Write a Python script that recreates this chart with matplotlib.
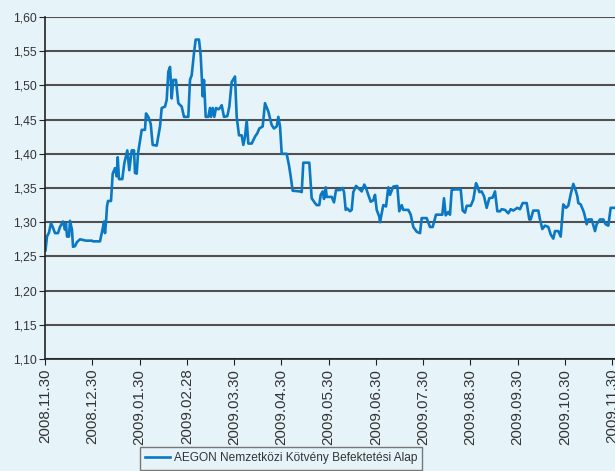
import matplotlib
matplotlib.use('Agg')
import matplotlib.pyplot as plt
from matplotlib.ticker import FuncFormatter
import numpy as np

# months elapsed since 2008.11.30 and fund price
months = [0.011, 0.042, 0.085, 0.127, 0.169, 0.212, 0.275, 0.317, 0.381, 0.423,
          0.444, 0.466, 0.508, 0.529, 0.571, 0.593, 0.635, 0.677, 0.741, 0.868,
          0.995, 1.016, 1.164, 1.228, 1.249, 1.270, 1.291, 1.312, 1.333, 1.397,
          1.433, 1.481, 1.517, 1.539, 1.566, 1.636, 1.678, 1.742, 1.784, 1.835,
          1.884, 1.905, 1.941, 1.968, 2.047, 2.116, 2.138, 2.186, 2.237, 2.279,
          2.364, 2.434, 2.470, 2.540, 2.576, 2.610, 2.646, 2.681, 2.715, 2.772,
          2.821, 2.893, 2.942, 3.033, 3.069, 3.105, 3.153, 3.189, 3.259, 3.295,
          3.338, 3.365, 3.401, 3.456, 3.492, 3.513, 3.549, 3.583, 3.619, 3.668,
          3.704, 3.740, 3.788, 3.858, 3.901, 3.951, 4.021, 4.057, 4.106, 4.163,
          4.197, 4.233, 4.269, 4.303, 4.375, 4.444, 4.493, 4.535, 4.607, 4.656,
          4.726, 4.798, 4.847, 4.904, 4.938, 4.974, 5.010, 5.115, 5.164, 5.200,
          5.242, 5.397, 5.433, 5.467, 5.594, 5.644, 5.714, 5.750, 5.805, 5.835,
          5.877, 5.905, 5.941, 5.962, 6.068, 6.116, 6.159, 6.243, 6.301, 6.328,
          6.364, 6.398, 6.455, 6.491, 6.525, 6.582, 6.631, 6.703, 6.758, 6.794,
          6.842, 6.893, 6.948, 6.984, 7.020, 7.075, 7.090, 7.160, 7.217, 7.266,
          7.302, 7.371, 7.456, 7.498, 7.549, 7.583, 7.689, 7.740, 7.795, 7.867,
          7.937, 7.972, 8.078, 8.148, 8.205, 8.275, 8.360, 8.409, 8.444, 8.480,
          8.536, 8.571, 8.607, 8.677, 8.798, 8.840, 8.889, 8.925, 9.010, 9.065,
          9.122, 9.149, 9.192, 9.242, 9.291, 9.348, 9.403, 9.475, 9.524, 9.573,
          9.630, 9.666, 9.735, 9.805, 9.856, 9.911, 9.996, 10.053, 10.110, 10.195,
          10.250, 10.279, 10.334, 10.440, 10.476, 10.525, 10.582, 10.652, 10.703, 10.758,
          10.794, 10.863, 10.914, 10.969, 11.026, 11.075, 11.126, 11.181, 11.238, 11.266,
          11.287, 11.337, 11.380, 11.407, 11.443, 11.464, 11.499, 11.570, 11.640, 11.676,
          11.746, 11.816, 11.866, 11.922, 11.972, 12.100]
price = [1.259, 1.279, 1.285, 1.299, 1.292, 1.284, 1.284, 1.293, 1.301, 1.289,
         1.298, 1.279, 1.279, 1.302, 1.289, 1.264, 1.265, 1.271, 1.275, 1.273,
         1.273, 1.272, 1.272, 1.293, 1.301, 1.284, 1.300, 1.323, 1.331, 1.331,
         1.371, 1.379, 1.367, 1.395, 1.363, 1.363, 1.386, 1.405, 1.376, 1.405,
         1.405, 1.372, 1.371, 1.400, 1.435, 1.435, 1.459, 1.454, 1.444, 1.413,
         1.412, 1.440, 1.467, 1.469, 1.479, 1.520, 1.527, 1.481, 1.508, 1.508,
         1.474, 1.469, 1.454, 1.454, 1.508, 1.515, 1.547, 1.567, 1.567, 1.544,
         1.484, 1.508, 1.454, 1.454, 1.467, 1.454, 1.467, 1.454, 1.467, 1.465,
         1.467, 1.471, 1.454, 1.455, 1.469, 1.505, 1.513, 1.454, 1.427, 1.427,
         1.413, 1.425, 1.449, 1.415, 1.415, 1.425, 1.430, 1.437, 1.440, 1.474,
         1.462, 1.442, 1.437, 1.440, 1.454, 1.440, 1.400, 1.400, 1.383, 1.367,
         1.346, 1.345, 1.344, 1.387, 1.387, 1.335, 1.328, 1.325, 1.325, 1.340,
         1.345, 1.334, 1.351, 1.337, 1.337, 1.329, 1.347, 1.347, 1.350, 1.344,
         1.318, 1.320, 1.316, 1.318, 1.344, 1.353, 1.350, 1.345, 1.355, 1.350,
         1.340, 1.330, 1.332, 1.340, 1.318, 1.308, 1.300, 1.325, 1.323, 1.351,
         1.340, 1.352, 1.353, 1.316, 1.325, 1.318, 1.318, 1.311, 1.293, 1.286,
         1.284, 1.306, 1.306, 1.293, 1.293, 1.311, 1.311, 1.311, 1.335, 1.310,
         1.315, 1.311, 1.347, 1.348, 1.348, 1.317, 1.314, 1.324, 1.324, 1.333,
         1.357, 1.353, 1.344, 1.345, 1.338, 1.321, 1.335, 1.336, 1.345, 1.316,
         1.316, 1.319, 1.318, 1.313, 1.319, 1.317, 1.321, 1.319, 1.328, 1.328,
         1.304, 1.304, 1.317, 1.317, 1.304, 1.290, 1.295, 1.293, 1.282, 1.276,
         1.287, 1.287, 1.279, 1.326, 1.321, 1.324, 1.341, 1.356, 1.345, 1.338,
         1.328, 1.326, 1.319, 1.314, 1.304, 1.297, 1.304, 1.304, 1.287, 1.297,
         1.304, 1.304, 1.297, 1.295, 1.321, 1.321]

tick_labels = ['2008.11.30', '2008.12.30', '2009.01.30', '2009.02.28', '2009.03.30',
               '2009.04.30', '2009.05.30', '2009.06.30', '2009.07.30', '2009.08.30',
               '2009.09.30', '2009.10.30', '2009.11.30']
series_name = 'AEGON Nemzetközi Kötvény Befektetési Alap'

bg = '#e6f4fa'
line_col = '#0a78c2'
txt = '#333333'
plt.rcParams['font.family'] = ['Liberation Sans', 'DejaVu Sans']

fig = plt.figure(figsize=(6.15, 4.71), dpi=100, facecolor=bg)
ax = fig.add_axes([45 / 615, 112 / 471, 570 / 615, 342 / 471], facecolor=bg)

ax.plot(months, price, color=line_col, linewidth=1.9, label=series_name)

ax.set_ylim(1.10, 1.60)
ax.set_xlim(0, 570 / 47.25)
ax.set_yticks(np.arange(1.10, 1.601, 0.05))
ax.yaxis.set_major_formatter(FuncFormatter(lambda v, p: ('%.2f' % v).replace('.', ',')))
ax.set_xticks(range(len(tick_labels)))
ax.set_xticklabels(tick_labels, rotation=90)
ax.grid(axis='y', color='#505050', linewidth=1.5)
ax.set_axisbelow(True)

for s in ['top', 'right']:
    ax.spines[s].set_visible(False)
for s in ['left', 'bottom']:
    ax.spines[s].set_color('#222222')
    ax.spines[s].set_linewidth(1.2)
ax.tick_params(axis='both', length=4, color='#222222', labelcolor=txt)
ax.tick_params(axis='y', labelsize=8.8, pad=2)
ax.tick_params(axis='x', labelsize=10.9, pad=3)

fig.legend(loc='upper center', bbox_to_anchor=(281 / 615, 1 - 441 / 471),
           frameon=True, fancybox=False, edgecolor='#777777', facecolor=bg,
           fontsize=8.6, labelcolor=txt, handlelength=2.1, handletextpad=0.3,
           borderpad=0.45, framealpha=1)

fig.savefig('out.png', dpi=100, facecolor=bg)
